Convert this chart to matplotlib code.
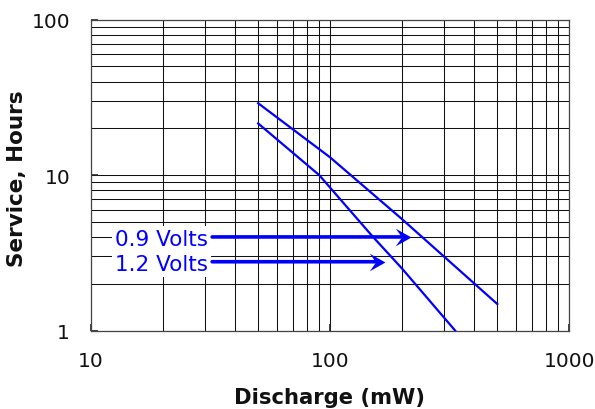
import matplotlib
matplotlib.use("Agg")
import matplotlib.pyplot as plt
from matplotlib.path import Path
from matplotlib.ticker import FixedLocator, NullFormatter, LogLocator

# ---- data ----
x_ticks = [10, 100, 1000]
x_tick_labels = ["10", "100", "1000"]
y_ticks = [1, 10, 100]
y_tick_labels = ["1", "10", "100"]

discharge_09 = [50, 100, 200, 500]
hours_09 = [29.0, 13.0, 5.2, 1.48]

discharge_12 = [50, 90, 150, 200, 333]
hours_12 = [21.5, 10.0, 4.05, 2.5, 1.0]

label_texts = ["0.9 Volts", "1.2 Volts"]
label_y = [4.0, 2.77]
arrow_start_x = [32.1, 32.1]
arrow_tip_x = [217, 170]
text_right_x = 30.8

blue = "#0000ff"

fig = plt.figure(figsize=(5.95, 4.10), dpi=100)
ax = fig.add_axes([91/595, 1-331.5/410, (569.3-91)/595, (331.5-20.7)/410])
ax.set_xscale("log")
ax.set_yscale("log")
ax.set_xlim(10, 1000)
ax.set_ylim(1, 100)

# grid
ax.xaxis.set_major_locator(FixedLocator(x_ticks))
ax.yaxis.set_major_locator(FixedLocator(y_ticks))
ax.xaxis.set_minor_locator(LogLocator(base=10, subs=range(2, 10)))
ax.yaxis.set_minor_locator(LogLocator(base=10, subs=range(2, 10)))
ax.xaxis.set_minor_formatter(NullFormatter())
ax.yaxis.set_minor_formatter(NullFormatter())
ax.set_xticklabels(x_tick_labels)
ax.set_yticklabels(y_tick_labels)
ax.grid(True, which="both", color="#111111", linewidth=0.75)
ax.set_axisbelow(True)
ax.tick_params(which="major", direction="in", length=5, width=1.2,
               labelsize=14.5, pad=15, colors="#222222", labelcolor="#111111")
ax.tick_params(which="minor", length=0)
for s in ax.spines.values():
    s.set_color("#444444")
    s.set_linewidth(0.9)

# curves
ax.plot(discharge_09, hours_09, color=blue, linewidth=1.6, zorder=3)
ax.plot(discharge_12, hours_12, color=blue, linewidth=1.6, zorder=3)

# arrow head marker (notched)
head = Path([(0, 0), (-1, 0.56), (-0.6, 0), (-1, -0.56), (0, 0)],
            [Path.MOVETO, Path.LINETO, Path.LINETO, Path.LINETO, Path.CLOSEPOLY])

for txt, yv, xs, xt in zip(label_texts, label_y, arrow_start_x, arrow_tip_x):
    ax.text(text_right_x, yv, txt, color=blue, fontsize=15.5, ha="right",
            va="center_baseline", zorder=4,
            bbox=dict(facecolor="white", edgecolor="none", pad=2.2))
    ax.annotate("", xy=(xt, yv), xytext=(xs, yv),
                arrowprops=dict(arrowstyle="-", color=blue, lw=2.6,
                                shrinkA=0, shrinkB=6), zorder=4)
    ax.plot([xt], [yv], marker=head, markersize=22.6, color=blue,
            markeredgewidth=0, zorder=5)

fig.text(330/595, 1-398/410, "Discharge (mW)", fontsize=15.2, fontweight="bold",
         ha="center", va="center", color="#111111")
fig.text(17/595, 1-179/410, "Service, Hours", fontsize=15.5, fontweight="bold",
         ha="center", va="center", rotation=90, color="#111111")

fig.savefig("out.png", dpi=100)
